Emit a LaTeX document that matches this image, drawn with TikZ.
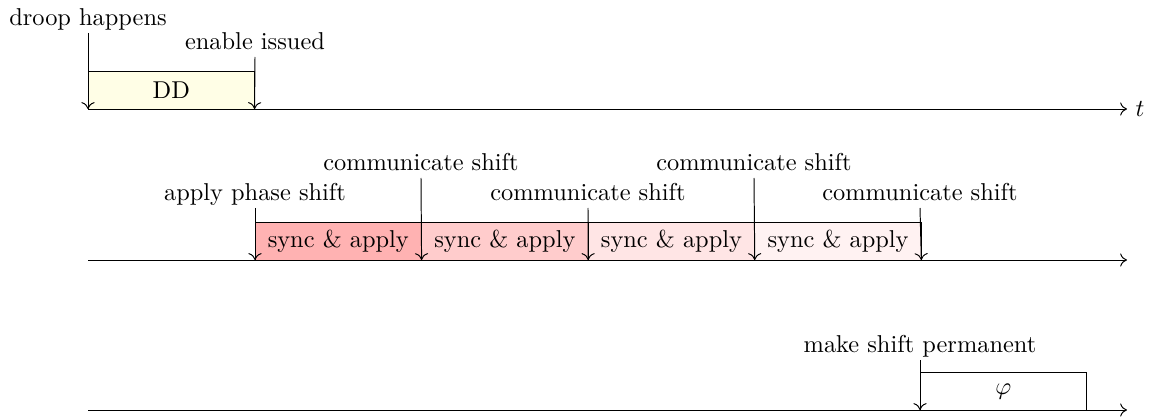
\documentclass[tikz,border=0pt]{standalone}
\usetikzlibrary{arrows.meta}
\begin{document}
\begin{tikzpicture}[x=0.41pt,y=-0.41pt,
  >={To[length=2.8pt,width=5.4pt]},
  seg/.style={draw, anchor=south west, minimum width=68.3pt, minimum height=15.4pt, inner sep=0pt, outer sep=0pt},
  lab/.style={anchor=south, text depth=0pt, inner ysep=2.9pt, outer sep=0pt},
  ev/.style={->},
  axis/.style={->}]
\useasboundingbox (0,0) rectangle (1153,418);
% row 1
\node[seg, fill=yellow!10] (dd) at (88,109) {DD};
\coordinate (a1s) at (88,109);
\coordinate (a1e) at (1127,109);
\draw[axis] (a1s) -- (a1e) node[right] (t) {$t$};
\node[lab] (l1) at (88,33) {droop happens};
\node[lab] (l2) at (255,57) {enable issued};
\draw[ev] (l1.south) -- (dd.south west);
\draw[ev] (l2.south) -- (dd.south east);
% row 2
\node[seg, fill=red!30] (s1) at (255,260) {sync \& apply};
\node[seg, fill=red!20] (s2) at (s1.south east) {sync \& apply};
\node[seg, fill=red!10] (s3) at (s2.south east) {sync \& apply};
\node[seg, fill=red!5] (s4) at (s3.south east) {sync \& apply};
\coordinate (a2s) at (88,260);
\coordinate (a2e) at (1127,260);
\draw[axis] (a2s) -- (a2e);
\node[lab] (m1) at (255,208) {apply phase shift};
\node[lab] (m2) at (421,178) {communicate shift};
\node[lab] (m3) at (588,208) {communicate shift};
\node[lab] (m4) at (754,178) {communicate shift};
\node[lab] (m5) at (920,208) {communicate shift};
\draw[ev] (m1.south) -- (s1.south west);
\draw[ev] (m2.south) -- (s2.south west);
\draw[ev] (m3.south) -- (s3.south west);
\draw[ev] (m4.south) -- (s4.south west);
\draw[ev] (m5.south) -- (s4.south east);
% row 3
\node[seg] (phi) at (920,410) {$\varphi$};
\coordinate (a3s) at (88,410);
\coordinate (a3e) at (1127,410);
\draw[axis] (a3s) -- (a3e);
\node[lab] (p1) at (920,360) {make shift permanent};
\draw[ev] (p1.south) -- (phi.south west);
\end{tikzpicture}
\end{document}
